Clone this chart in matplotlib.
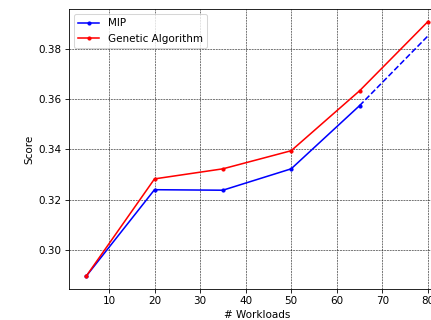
import matplotlib
matplotlib.use('Agg')
import matplotlib.pyplot as plt

workloads = [5, 20, 35, 50, 65]
mip_scores = [0.2895, 0.3239, 0.3237, 0.3322, 0.3573]
mip_extrap_x = [65, 80]
mip_extrap_y = [0.3573, 0.3850]
ga_workloads = [5, 20, 35, 50, 65, 80]
ga_scores = [0.2895, 0.3282, 0.3322, 0.3394, 0.3632, 0.3907]

dpi = 75
fig = plt.figure(figsize=(431 / dpi, 320 / dpi), dpi=dpi)
ax = fig.add_axes([0.1603, 0.097, 0.872, 0.875])

ax.plot(workloads, mip_scores, color='blue', marker='.', label='MIP')
ax.plot(mip_extrap_x, mip_extrap_y, color='blue', linestyle='--')
ax.plot(ga_workloads, ga_scores, color='red', marker='.', label='Genetic Algorithm')

ax.grid(True, color='black', linestyle='--', linewidth=0.5)
ax.set_xlabel('# Workloads')
ax.set_ylabel('Score')
ax.legend(loc='upper left')

fig.savefig('out.png', dpi=dpi)
